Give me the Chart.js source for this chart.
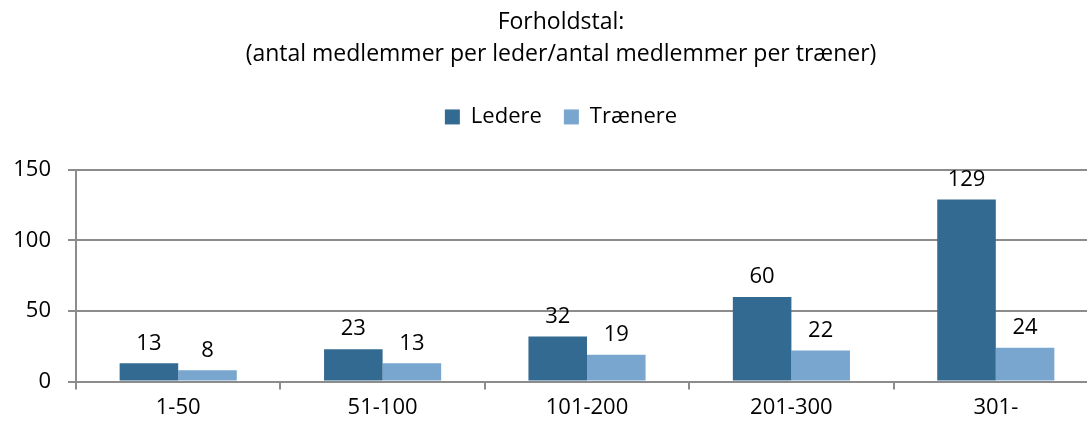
<!DOCTYPE html>
<html>
<head>
<meta charset="utf-8">
<script src="https://cdn.jsdelivr.net/npm/chart.js@4"></script>
<style>
    html, body { margin: 0; padding: 0; background: #fff; overflow: hidden; }
    #wrap { position: absolute; left: 0; top: 0; width: 1122px; height: 426px; }
</style>
</head>
<body>
<div id="wrap"><canvas id="chart" width="1122" height="426"></canvas></div>
<script>
// Forholdstal pr. klubstørrelse
const categories = ['1-50', '51-100', '101-200', '201-300', '301-'];
const ledere = [13, 23, 32, 60, 129];
const traenere = [8, 13, 19, 22, 24];
const yTicks = [0, 50, 100, 150];

const FONT = '"Open Sans", sans-serif';
const GRID = '#8c8c8c';

// simple value labels above bars
const valueLabels = {
    id: 'valueLabels',
    afterDatasetsDraw(chart) {
        const ctx = chart.ctx;
        ctx.save();
        ctx.font = '22px ' + FONT;
        ctx.fillStyle = '#000';
        ctx.textAlign = 'center';
        ctx.textBaseline = 'middle';
        chart.data.datasets.forEach((ds, i) => {
            chart.getDatasetMeta(i).data.forEach((bar, j) => {
                ctx.fillText(ds.data[j], bar.x, bar.y - 20);
            });
        });
        ctx.restore();
    }
};

// extra room between legend and plot
const legendGap = {
    id: 'legendGap',
    beforeInit(chart) {
        const fit = chart.legend.fit;
        chart.legend.fit = function () {
            fit.bind(chart.legend)();
            this.height += 32;
        };
    }
};

new Chart(document.getElementById('chart'), {
    type: 'bar',
    data: {
        labels: categories,
        datasets: [
            { label: 'Ledere', data: ledere, backgroundColor: '#336a91' },
            { label: 'Trænere', data: traenere, backgroundColor: '#79a6cf' }
        ]
    },
    options: {
        responsive: false,
        animation: false,
        categoryPercentage: 0.573,
        barPercentage: 1.0,
        layout: { padding: 0 },
        plugins: {
            title: {
                display: true,
                text: ['Forholdstal:', '(antal medlemmer per leder/antal medlemmer per træner)'],
                color: '#000',
                font: { family: FONT, size: 23, weight: 'normal', lineHeight: 1.39 },
                padding: { top: 6, bottom: 14 }
            },
            legend: {
                labels: {
                    color: '#000',
                    font: { family: FONT, size: 22 },
                    boxWidth: 15,
                    boxHeight: 15,
                    padding: 22
                }
            },
            tooltip: { enabled: false }
        },
        scales: {
            x: {
                offset: true,
                grid: { offset: true, drawOnChartArea: false, color: GRID, lineWidth: 2, tickLength: 8 },
                border: { display: true, color: GRID, width: 2 },
                ticks: { color: '#000', font: { family: FONT, size: 22 }, padding: 5 }
            },
            y: {
                min: 0,
                max: 150,
                afterBuildTicks: axis => { axis.ticks = yTicks.map(v => ({ value: v })); },
                afterFit: axis => { axis.width = 76; },
                grid: { color: GRID, lineWidth: 2, tickLength: 8 },
                border: { display: true, color: GRID, width: 2 },
                ticks: { color: '#000', font: { family: FONT, size: 22 }, padding: 17 }
            },
            // empty spacer on the right, keeps the title centred like the original
            spacer: {
                type: 'linear',
                position: 'right',
                min: 0,
                max: 150,
                afterFit: axis => { axis.width = 24; },
                grid: { drawOnChartArea: false, drawTicks: false, display: false },
                border: { display: false },
                ticks: { display: false }
            }
        }
    },
    plugins: [valueLabels, legendGap]
});
</script>
</body>
</html>
